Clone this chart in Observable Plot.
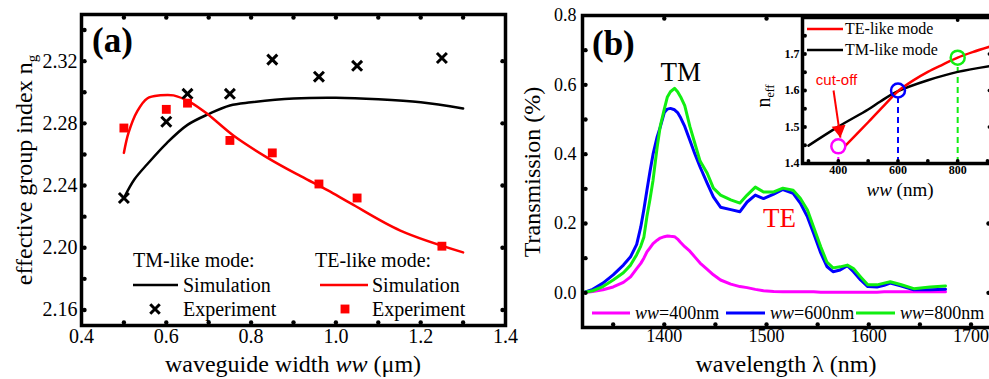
<!DOCTYPE html>
<html><head><meta charset="utf-8">
<script src="https://cdn.jsdelivr.net/npm/d3@7"></script>
<script src="https://cdn.jsdelivr.net/npm/@observablehq/plot@0.6"></script>
<style>
html,body{margin:0;padding:0;background:#fff;}
#wrap{position:relative;width:989px;height:379px;overflow:hidden;background:#fff;}
#wrap svg{position:absolute;top:0;overflow:visible;max-width:none;}
</style></head><body><div id="wrap"></div>
<script>
const SERIF = "'Liberation Serif','Times New Roman',Times,serif";
const SANS = "'Liberation Sans',Arial,sans-serif";
const RED = "#ff0000", MAGENTA = "#ff00ff", BLUE = "#0000ff", GREEN = "#11ee11";

// ---------- panel (a) data ----------
const expWidth = [0.5, 0.6, 0.65, 0.75, 0.85, 0.96, 1.05, 1.25];
const tmExp = [2.232, 2.281, 2.299, 2.299, 2.321, 2.310, 2.317, 2.322];
const teExp = [2.277, 2.289, 2.293, 2.269, 2.261, 2.241, 2.232, 2.201];
const tmSimWidth = [0.5, 0.525, 0.556, 0.6, 0.65, 0.7, 0.75, 0.8, 0.9, 1.0, 1.1, 1.2, 1.3];
const tmSim = [2.232, 2.244, 2.254, 2.267, 2.279, 2.286, 2.2915, 2.2935, 2.296, 2.2965, 2.2955, 2.2935, 2.2895];
const teSimWidth = [0.5, 0.511, 0.532, 0.555, 0.586, 0.617, 0.657, 0.697, 0.759, 0.838, 0.917, 0.98, 1.035, 1.152, 1.3];
const teSim = [2.261, 2.274, 2.288, 2.296, 2.298, 2.298, 2.2935, 2.286, 2.272, 2.258, 2.246, 2.237, 2.2285, 2.211, 2.197];
const aXTicks = [0.4, 0.6, 0.8, 1.0, 1.2, 1.4];
const aYTicks = [2.16, 2.20, 2.24, 2.28, 2.32];
const aMinorX = [0.5, 0.6, 0.7, 0.8, 0.9, 1.0, 1.1, 1.2, 1.3];
const aMinorY = [2.16, 2.18, 2.20, 2.22, 2.24, 2.26, 2.28, 2.30, 2.32, 2.34];

// ---------- panel (b) data ----------
const wavelength = [1320,1330,1340,1350,1360,1367,1373,1377,1380,1383,1386,1389,1393,1396,1400,1403,1406,1410,1413,1416,1420,1425,1430,1435,1442,1448,1455,1465,1474,1481,1489,1497,1507,1516,1526,1533,1540,1546,1553,1559,1565,1572,1579,1585,1592,1599,1608,1615,1621,1631,1644,1660,1675];
const trans400 = [0,0.004,0.009,0.017,0.03,0.046,0.07,0.085,0.1,0.118,0.13,0.142,0.152,0.158,0.162,0.164,0.163,0.162,0.155,0.145,0.133,0.12,0.103,0.086,0.068,0.052,0.037,0.025,0.018,0.015,0.01,0.006,0.004,0.003,0.003,0.003,0.003,0.003,0.002,0.002,0.002,0.002,0.002,0.002,0.002,0.002,0.002,0.003,0.003,0.003,0.003,0.003,0.003];
const trans600 = [0,0.01,0.028,0.052,0.08,0.104,0.14,0.19,0.24,0.296,0.35,0.40,0.45,0.478,0.52,0.53,0.532,0.528,0.52,0.505,0.48,0.44,0.40,0.363,0.316,0.277,0.247,0.24,0.234,0.262,0.282,0.272,0.285,0.298,0.287,0.259,0.219,0.172,0.115,0.076,0.061,0.066,0.078,0.061,0.037,0.018,0.017,0.022,0.028,0.02,0.009,0.009,0.01];
const trans800 = [0,0.006,0.018,0.037,0.058,0.08,0.11,0.135,0.16,0.22,0.27,0.325,0.42,0.48,0.53,0.565,0.58,0.59,0.58,0.565,0.54,0.48,0.43,0.38,0.345,0.302,0.282,0.268,0.259,0.282,0.305,0.291,0.291,0.302,0.296,0.273,0.239,0.19,0.133,0.089,0.072,0.075,0.08,0.07,0.046,0.023,0.023,0.028,0.032,0.024,0.012,0.017,0.02];
const bXTicks = [1400, 1500, 1600, 1700];
const bYTicks = [0, 0.2, 0.4, 0.6, 0.8];
const bMinorX = [1350, 1400, 1450, 1500, 1550, 1600, 1650, 1700];
const bMinorY = [0, 0.1, 0.2, 0.3, 0.4, 0.5, 0.6, 0.7];
const bTopX = [1400, 1500];
const bRightY = [0, 0.2];
const modeLabels = [{w: 1416, t: 0.636, text: "TM", color: "black"}, {w: 1512.6, t: 0.216, text: "TE", color: RED}];

// ---------- inset data ----------
const insetTEw = [424, 500, 560, 600, 650, 700, 750, 800, 850, 915];
const insetTEn = [1.449, 1.513, 1.565, 1.598, 1.627, 1.651, 1.671, 1.69, 1.705, 1.722];
const insetTMw = [300, 400, 500, 541, 600, 700, 800, 915];
const insetTMn = [1.449, 1.501, 1.548, 1.57, 1.598, 1.628, 1.651, 1.668];
const markerW = [400, 600, 800];
const markerN = [1.447, 1.60, 1.69];
const markerColor = [MAGENTA, BLUE, GREEN];
const cXTicks = [400, 600, 800];
const cYTicks = [1.4, 1.5, 1.6, 1.7];
const cMinorX = [300, 400, 500, 600, 700, 800, 900];
const cMinorY = [1.45, 1.5, 1.55, 1.6, 1.65, 1.7, 1.75];
const cRightY = [1.5, 1.6, 1.7];
const cutoffLabel = [{w: 394, n: 1.627, text: "cut-off"}];
const cutoffArrow = [{w1: 384, n1: 1.60, w2: 407, n2: 1.471}];

const rows = (xs, ys) => xs.map((x, i) => ({x, y: ys[i]}));
const dotsX = (vals, anchor, dy, r = 2.2) => Plot.dot(vals, {x: d => d, frameAnchor: anchor, dy, r, fill: "black", stroke: "none"});
const dotsY = (vals, anchor, dx, r = 2.2) => Plot.dot(vals, {y: d => d, frameAnchor: anchor, dx, r, fill: "black", stroke: "none"});

function addText(svg, o) {
  const t = d3.select(svg).append("text")
    .attr("x", o.x).attr("y", o.y)
    .attr("font-family", o.family || SERIF)
    .attr("font-size", o.size)
    .attr("font-weight", o.weight || "normal")
    .attr("text-anchor", o.anchor || "start")
    .attr("fill", o.fill || "black");
  if (o.rotate) t.attr("transform", `rotate(${o.rotate},${o.x},${o.y})`);
  for (const p of o.parts) {
    const s = t.append("tspan").text(p.t);
    if (p.i) s.attr("font-style", "italic");
    if (p.sub) s.attr("dy", p.dy || "0.35em").attr("font-size", p.sub);
  }
  return t;
}
function addLine(svg, x1, x2, y, color, w = 2.5) {
  d3.select(svg).append("line").attr("x1", x1).attr("x2", x2).attr("y1", y).attr("y2", y)
    .attr("stroke", color).attr("stroke-width", w);
}

const wrap = document.getElementById("wrap");

// ================= panel (a) =================
const plotA = Plot.plot({
  width: 510, height: 379,
  marginLeft: 81, marginRight: 5, marginTop: 14, marginBottom: 54,
  style: {fontFamily: SERIF, fontSize: "20px", color: "black", background: "transparent", overflow: "visible"},
  x: {domain: [0.4, 1.4]},
  y: {domain: [2.15, 2.35]},
  marks: [
    Plot.line(rows(tmSimWidth, tmSim), {x: "x", y: "y", stroke: "black", strokeWidth: 2.5, curve: "catmull-rom"}),
    Plot.line(rows(teSimWidth, teSim), {x: "x", y: "y", stroke: RED, strokeWidth: 2.5, curve: "catmull-rom"}),
    Plot.dot(rows(expWidth, tmExp), {x: "x", y: "y", symbol: "times", r: 4.6, stroke: "black", strokeWidth: 3}),
    Plot.dot(rows(expWidth, teExp), {x: "x", y: "y", symbol: "square", r: 5, fill: RED, stroke: "none"}),
    dotsX(aMinorX, "bottom", -3), dotsX(aMinorX, "top", 3),
    dotsY(aMinorY, "left", 3), dotsY(aYTicks, "right", -3),
    Plot.axisX({ticks: aXTicks, tickSize: 0, tickPadding: 3, tickFormat: d3.format(".1f"), label: null, fontSize: 20}),
    Plot.axisY({ticks: aYTicks, tickSize: 0, tickPadding: 4, tickFormat: d3.format(".2f"), label: null, fontSize: 20}),
    Plot.frame({stroke: "black", strokeWidth: 3.5})
  ]
});
plotA.style.left = "0px";
wrap.appendChild(plotA);
addText(plotA, {x: 92, y: 52, size: 35, weight: "bold", parts: [{t: "(a)"}]});
addText(plotA, {x: 293, y: 372, size: 24, anchor: "middle", parts: [{t: "waveguide width "}, {t: "ww", i: true}, {t: " (μm)"}]});
addText(plotA, {x: 32, y: 170, size: 24, anchor: "middle", rotate: -90, parts: [{t: "effective group index n"}, {t: "g", sub: 15, dy: "0.3em"}]});
// legend (a)
addText(plotA, {x: 133, y: 267, size: 20, parts: [{t: "TM-like mode:"}]});
addText(plotA, {x: 315, y: 267, size: 20, parts: [{t: "TE-like mode:"}]});
addLine(plotA, 133, 178, 285, "black");
addText(plotA, {x: 183, y: 292, size: 20, parts: [{t: "Simulation"}]});
addLine(plotA, 320, 368, 285, RED);
addText(plotA, {x: 372, y: 292, size: 20, parts: [{t: "Simulation"}]});
d3.select(plotA).append("path").attr("transform", "translate(155,309)")
  .attr("d", d3.symbol(d3.symbolTimes, Math.PI * 4.4 * 4.4)()).attr("stroke", "black").attr("stroke-width", 3).attr("fill", "none");
addText(plotA, {x: 183, y: 316, size: 20, parts: [{t: "Experiment"}]});
d3.select(plotA).append("path").attr("transform", "translate(345,309)")
  .attr("d", d3.symbol(d3.symbolSquare, Math.PI * 25)()).attr("fill", RED);
addText(plotA, {x: 372, y: 316, size: 20, parts: [{t: "Experiment"}]});

// ================= panel (b) =================
const plotB = Plot.plot({
  width: 480, height: 379,
  marginLeft: 62, marginRight: 9, marginTop: 15, marginBottom: 52,
  style: {fontFamily: SERIF, fontSize: "18px", color: "black", background: "transparent", overflow: "visible"},
  x: {domain: [1320, 1720]},
  y: {domain: [-0.1, 0.8]},
  marks: [
    Plot.line(rows(wavelength, trans400), {x: "x", y: "y", stroke: MAGENTA, strokeWidth: 3}),
    Plot.line(rows(wavelength, trans600), {x: "x", y: "y", stroke: BLUE, strokeWidth: 3}),
    Plot.line(rows(wavelength, trans800), {x: "x", y: "y", stroke: GREEN, strokeWidth: 3}),
    Plot.text(modeLabels, {x: "w", y: "t", text: "text", fill: "color", fontSize: 27, fontFamily: SERIF, lineAnchor: "middle"}),
    dotsX(bMinorX, "bottom", -3), dotsX(bTopX, "top", 3),
    dotsY(bMinorY, "left", 3), dotsY(bRightY, "right", -3),
    Plot.axisX({ticks: bXTicks, tickSize: 0, tickPadding: 2, tickFormat: d3.format("d"), label: null, fontSize: 18}),
    Plot.axisY({ticks: bYTicks, tickSize: 0, tickPadding: 6, tickFormat: d3.format(".1f"), label: null, fontSize: 18}),
    Plot.frame({stroke: "black", strokeWidth: 3.5})
  ]
});
plotB.style.left = "520px";
wrap.appendChild(plotB);
addText(plotB, {x: 72, y: 55, size: 35, weight: "bold", parts: [{t: "(b)"}]});
addText(plotB, {x: 266, y: 372, size: 24, anchor: "middle", parts: [{t: "wavelength λ (nm)"}]});
addText(plotB, {x: 20, y: 172, size: 24, anchor: "middle", rotate: -90, parts: [{t: "Transmission (%)"}]});
// legend (b)
addLine(plotB, 72, 110, 313, MAGENTA, 3);
addText(plotB, {x: 115, y: 319, size: 18, parts: [{t: "ww", i: true}, {t: "=400nm"}]});
addLine(plotB, 206, 245, 313, BLUE, 3);
addText(plotB, {x: 250, y: 319, size: 18, parts: [{t: "ww", i: true}, {t: "=600nm"}]});
addLine(plotB, 336, 375, 313, GREEN, 3);
addText(plotB, {x: 380, y: 319, size: 18, parts: [{t: "ww", i: true}, {t: "=800nm"}]});

// ================= inset =================
const markers = markerW.map((w, i) => ({w, n: markerN[i], c: markerColor[i]}));
const plotC = Plot.plot({
  width: 240, height: 200,
  marginLeft: 42, marginRight: 8.5, marginTop: 17, marginBottom: 37,
  style: {fontFamily: SERIF, fontSize: "12px", color: "black", background: "transparent", overflow: "visible"},
  x: {domain: [280, 915]},
  y: {domain: [1.4, 1.8]},
  color: {type: "identity"},
  marks: [
    Plot.frame({fill: "white", stroke: "none"}),
    Plot.ruleX(markers, {x: "w", y1: 1.4, y2: d => d.n - 0.02, stroke: "c", strokeWidth: 2, strokeDasharray: "6,4"}),
    Plot.line(rows(insetTMw, insetTMn), {x: "x", y: "y", stroke: "black", strokeWidth: 2.5, curve: "catmull-rom"}),
    Plot.line(rows(insetTEw, insetTEn), {x: "x", y: "y", stroke: RED, strokeWidth: 2.5, curve: "catmull-rom"}),
    Plot.dot(markers, {x: "w", y: "n", r: 7, stroke: "c", strokeWidth: 2.5, fill: "none"}),
    Plot.link(cutoffArrow, {x1: "w1", y1: "n1", x2: "w2", y2: "n2", stroke: RED, strokeWidth: 2}),
    Plot.dot(cutoffArrow, {x: "w2", y: "n2", symbol: "triangle", r: 5.2, rotate: 171.5, dx: -1.2, dy: -7.9, fill: RED, stroke: "none"}),
    Plot.text(cutoffLabel, {x: "w", y: "n", text: "text", fill: RED, fontSize: 15, fontFamily: SANS, lineAnchor: "middle"}),
    dotsX(cMinorX, "bottom", -2.5, 1.9), dotsX([800], "top", 2.5, 1.9),
    dotsY(cMinorY, "left", 2.5, 1.9), dotsY(cRightY, "right", -2.5, 1.9),
    Plot.axisX({ticks: cXTicks, tickSize: 0, tickPadding: 2, tickFormat: d3.format("d"), label: null, fontSize: 12, fontWeight: "bold"}),
    Plot.axisY({ticks: cYTicks, tickSize: 0, tickPadding: 3, tickFormat: d3.format(".1f"), label: null, fontSize: 12, fontWeight: "bold"}),
    Plot.frame({stroke: "black", strokeWidth: 3.5})
  ]
});
plotC.style.left = "760px";
wrap.appendChild(plotC);
addLine(plotC, 47, 83, 29, RED);
addText(plotC, {x: 85, y: 34, size: 16, parts: [{t: "TE-like mode"}]});
addLine(plotC, 47, 83, 50, "black");
addText(plotC, {x: 85, y: 55, size: 16, parts: [{t: "TM-like mode"}]});
addText(plotC, {x: 140, y: 196, size: 19, anchor: "middle", parts: [{t: "ww", i: true}, {t: " (nm)"}]});
addText(plotC, {x: 10, y: 96, size: 20, anchor: "middle", rotate: -90, parts: [{t: "n"}, {t: "eff", sub: 12, dy: "0.3em"}]});
</script></body></html>
